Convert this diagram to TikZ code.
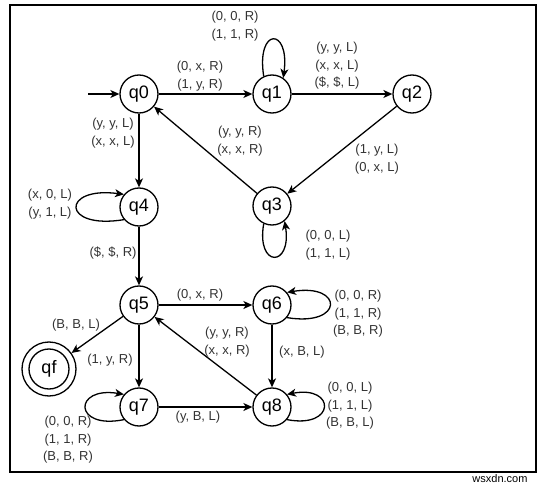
\documentclass[tikz,border=0pt]{standalone}
\usepackage{fontspec}
\setmainfont{Liberation Sans}
\usetikzlibrary{arrows.meta}
\begin{document}
\begin{tikzpicture}[x=1pt,y=-1pt,
  st/.style={circle,draw,line width=1.3pt,minimum size=38pt,inner sep=0pt,font=\fontsize{18}{20}\selectfont},
  lbl/.style={align=center,text=black!80,font=\fontsize{13}{17.5}\selectfont,inner sep=0pt},
  edge/.style={line width=1.3pt,-{Stealth[length=9pt,width=8pt,inset=2.5pt]}}]
\useasboundingbox (0,0) rectangle (547,487);
\draw[line width=1.2pt] (10,5) rectangle (536,472);
\node[anchor=east,font=\fontsize{11}{12}\selectfont] (wm) at (531,479) {wsxdn.com};

\node[st] (q0) at (139,94) {q0};
\node[st] (q1) at (272,94) {q1};
\node[st] (q2) at (412,94) {q2};
\node[st] (q3) at (272,206) {q3};
\node[st] (q4) at (139,207) {q4};
\node[st] (q5) at (139,305) {q5};
\node[st] (q6) at (272,305) {q6};
\node[st] (q7) at (139,407) {q7};
\node[st] (q8) at (272,407) {q8};
\node[st,minimum size=54pt] (qf) at (49,369) {qf};
\draw[line width=1.3pt] (qf.center) circle (20pt);
\coordinate (start) at (88,94);

\draw[edge] (start) -- (q0);
\draw[edge] (q0) -- (q1);
\draw[edge] (q1) -- (q2);
\draw[edge] (q2) -- (q3);
\draw[edge] (q3) -- (q0);
\draw[edge] (q0) -- (q4);
\draw[edge] (q4) -- (q5);
\draw[edge] (q5) -- (q6);
\draw[edge] (q5) -- (qf);
\draw[edge] (q5) -- (q7);
\draw[edge] (q6) -- (q8);
\draw[edge] (q7) -- (q8);
\draw[edge] (q8) -- (q5);

\draw[edge] (q1.115) .. controls (256,27) and (290,27) .. (q1.55);
\draw[edge] (q3.-115) .. controls (256,268) and (292,268) .. (q3.-50);
\draw[edge] (q4.-140) .. controls (61,230) and (61,186) .. (q4.140);
\draw[edge] (q7.-140) .. controls (73,430) and (73,386) .. (q7.140);
\draw[edge] (q6.-40) .. controls (344,327) and (344,283) .. (q6.40);
\draw[edge] (q8.-40) .. controls (336,429) and (336,385) .. (q8.40);

\node[lbl] (l00) at (235,26) {(0, 0, R)\\(1, 1, R)};
\node[lbl] (l01) at (200,76) {(0, x, R)\\(1, y, R)};
\node[lbl] (l12) at (337,66) {(y, y, L)\\(x, x, L)\\(\$, \$, L)};
\node[lbl] (l23) at (377,159) {(1, y, L)\\(0, x, L)};
\node[lbl] (l30) at (240,141) {(y, y, R)\\(x, x, R)};
\node[lbl] (l33) at (328,245) {(0, 0, L)\\(1, 1, L)};
\node[lbl] (l04) at (113,133) {(y, y, L)\\(x, x, L)};
\node[lbl] (l44) at (50,204) {(x, 0, L)\\(y, 1, L)};
\node[lbl] (l45) at (113,253) {(\$, \$, R)};
\node[lbl] (l56) at (200,295) {(0, x, R)};
\node[lbl] (l5f) at (76,325) {(B, B, L)};
\node[lbl] (l57) at (110,360) {(1, y, R)};
\node[lbl] (l85) at (227,342) {(y, y, R)\\(x, x, R)};
\node[lbl] (l68) at (302,352) {(x, B, L)};
\node[lbl] (l66) at (358,314) {(0, 0, R)\\(1, 1, R)\\(B, B, R)};
\node[lbl] (l88) at (350,406) {(0, 0, L)\\(1, 1, L)\\(B, B, L)};
\node[lbl] (l77) at (68,440) {(0, 0, R)\\(1, 1, R)\\(B, B, R)};
\node[lbl] (l78) at (198,417) {(y, B, L)};
\end{tikzpicture}
\end{document}
